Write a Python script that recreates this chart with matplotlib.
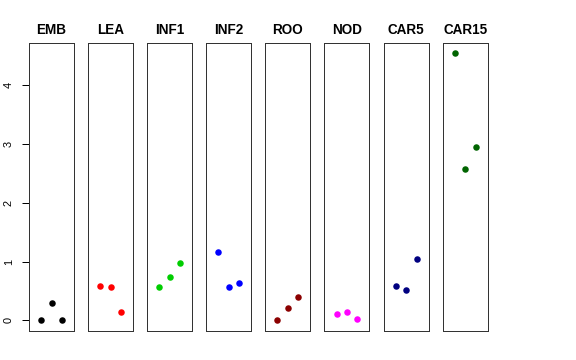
import matplotlib
matplotlib.use("Agg")
import matplotlib.pyplot as plt

plt.rcParams['font.family'] = ['Liberation Sans', 'DejaVu Sans']

categories = ["EMB", "LEA", "INF1", "INF2", "ROO", "NOD", "CAR5", "CAR15"]
values = {
    "EMB": [0.0, 0.29, 0.0],
    "LEA": [0.59, 0.575, 0.14],
    "INF1": [0.57, 0.745, 0.98],
    "INF2": [1.17, 0.56, 0.63],
    "ROO": [0.0, 0.205, 0.39],
    "NOD": [0.11, 0.14, 0.02],
    "CAR5": [0.585, 0.51, 1.05],
    "CAR15": [4.54, 2.57, 2.94],
}
colors = ["black", "red", "#00CD00", "blue", "#8B0000", "magenta", "#000080", "#006400"]
yticks = [0, 1, 2, 3, 4]

W, H = 576, 360
fig = plt.figure(figsize=(W / 72, H / 72), dpi=72)

ymax = max(max(v) for v in values.values())
ylo, yhi = 0 - 0.04 * ymax, ymax + 0.04 * ymax
xlo, xhi = 0 - 0.16, 4 + 0.16

left0 = 29 / W
pw = 45 / W
stride = 59.1 / W
bottom = 1 - 331 / H
ph = (331 - 42.7) / H

for i, cat in enumerate(categories):
    ax = fig.add_axes([left0 + i * stride, bottom, pw, ph])
    ax.plot([1, 2, 3], values[cat], 'o', color=colors[i], markersize=6.5, markeredgewidth=0)
    ax.set_xlim(xlo, xhi)
    ax.set_ylim(ylo, yhi)
    ax.set_xticks([])
    for s in ax.spines.values():
        s.set_linewidth(1.0)
        s.set_color("#333333")
    ax.set_title(cat, fontsize=13.5, fontweight='bold', pad=9)
    if i == 0:
        ax.set_yticks(yticks)
        ax.set_yticklabels([str(t) for t in yticks], rotation=90, va='center', fontsize=11)
        ax.tick_params(axis='y', length=7, width=1, pad=8)
    else:
        ax.set_yticks([])

fig.savefig("out.png", dpi=72)
